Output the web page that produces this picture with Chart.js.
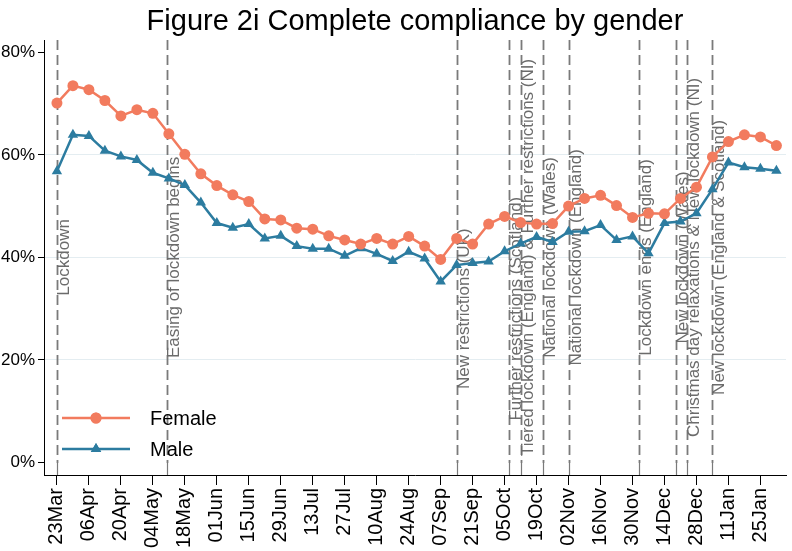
<!DOCTYPE html>
<html>
<head>
<meta charset="utf-8">
<title>Figure 2i Complete compliance by gender</title>
<script src="https://cdn.jsdelivr.net/npm/chart.js@4.4.0/dist/chart.umd.min.js"></script>
<style>
  html, body { margin: 0; padding: 0; background: #fff; }
  #grafico { display: block; }
</style>
</head>
<body>
<canvas id="grafico" width="792" height="551"></canvas>
<script>
// Datos (semanal desde el 23 de marzo de 2020)
var fechasEncuesta = [
  '2020-03-23', '2020-03-30', '2020-04-06', '2020-04-13', '2020-04-20', '2020-04-27', '2020-05-04', '2020-05-11',
  '2020-05-18', '2020-05-25', '2020-06-01', '2020-06-08', '2020-06-15', '2020-06-22', '2020-06-29', '2020-07-06',
  '2020-07-13', '2020-07-20', '2020-07-27', '2020-08-03', '2020-08-10', '2020-08-17', '2020-08-24', '2020-08-31',
  '2020-09-07', '2020-09-14', '2020-09-21', '2020-09-28', '2020-10-05', '2020-10-12', '2020-10-19', '2020-10-26',
  '2020-11-02', '2020-11-09', '2020-11-16', '2020-11-23', '2020-11-30', '2020-12-07', '2020-12-14', '2020-12-21',
  '2020-12-28', '2021-01-04', '2021-01-11', '2021-01-18', '2021-01-25', '2021-02-01'
];
var female = [
  70.1, 73.5, 72.7, 70.6, 67.6, 68.8, 68.1, 64.1, 60.1, 56.3, 54.0, 52.2, 50.9, 47.5, 47.3, 45.7,
  45.5, 44.2, 43.4, 42.6, 43.7, 42.6, 44.1, 42.2, 39.6, 43.7, 42.6, 46.5, 48.0, 46.8, 46.5, 46.6,
  50.0, 51.5, 52.1, 50.1, 47.8, 48.6, 48.5, 51.5, 53.7, 59.6, 62.6, 63.9, 63.5, 61.8
];
var male = [
  56.8, 63.9, 63.7, 60.8, 59.7, 59.0, 56.5, 55.4, 54.1, 50.7, 46.7, 45.8, 46.5, 43.7, 44.2, 42.2,
  41.7, 41.7, 40.3, 41.8, 40.7, 39.3, 41.1, 39.8, 35.3, 38.5, 38.9, 39.2, 41.2, 42.7, 44.0, 43.0,
  45.0, 45.1, 46.3, 43.4, 44.1, 40.8, 46.7, 47.0, 48.6, 53.3, 58.5, 57.6, 57.3, 56.9
];
var fechasTicks = [
  '2020-03-23', '2020-04-06', '2020-04-20', '2020-05-04', '2020-05-18', '2020-06-01', '2020-06-15', '2020-06-29',
  '2020-07-13', '2020-07-27', '2020-08-10', '2020-08-24', '2020-09-07', '2020-09-21', '2020-10-05', '2020-10-19',
  '2020-11-02', '2020-11-16', '2020-11-30', '2020-12-14', '2020-12-28', '2021-01-11', '2021-01-25'
];
var ticksY = [0, 20, 40, 60, 80];
var rejillaY = [20, 40, 60];

// Eventos: fecha, texto y altura (en %) donde se centra el texto
var fechasEventos = [
  '2020-03-23', '2020-05-10', '2020-09-14', '2020-10-07', '2020-10-12', '2020-10-22',
  '2020-11-02', '2020-12-03', '2020-12-19', '2020-12-24', '2021-01-04'
];
var textosEventos = [
  'Lockdown',
  'Easing of lockdown begins',
  'New restrictions (UK)',
  'Further restrictions (Scotland)',
  'Tiered lockdown (England) & Further restrictions (NI)',
  'National lockdown (Wales)',
  'National lockdown (England)',
  'Lockdown ends (England)',
  'New lockdown (Wales)',
  'Christmas day relaxations & New lockdown (NI)',
  'New lockdown (England & Scotland)'
];
var alturaEventos = [40, 40, 30, 30, 40, 40, 40, 40, 40, 40, 40];

(function () {
  var FUENTE = "'Liberation Sans', Arial, sans-serif";
  var NARANJA = '#f27b5e';
  var AZUL = '#2c7ca0';
  var INICIO = Date.UTC(2020, 2, 23);
  var MESES = ['Jan', 'Feb', 'Mar', 'Apr', 'May', 'Jun', 'Jul', 'Aug', 'Sep', 'Oct', 'Nov', 'Dec'];

  function dias(iso) {
    var p = iso.split('-');
    return (Date.UTC(+p[0], +p[1] - 1, +p[2]) - INICIO) / 86400000;
  }
  function etiqueta(d) {
    var t = new Date(INICIO + Math.round(d) * 86400000);
    var dd = t.getUTCDate();
    return (dd < 10 ? '0' : '') + dd + MESES[t.getUTCMonth()];
  }
  function puntos(serie) {
    return fechasEncuesta.map(function (f, i) { return { x: dias(f), y: serie[i] }; });
  }

  // ---------------- Líneas de eventos ----------------
  var eventos = {
    id: 'eventos',
    beforeDatasetsDraw: function (chart) {
      var c = chart.ctx, a = chart.chartArea, sx = chart.scales.x, sy = chart.scales.y;
      c.save();
      fechasEventos.forEach(function (f, i) {
        var x = Math.round(sx.getPixelForValue(dias(f))) + 0.5;
        c.strokeStyle = '#7a7a7a';
        c.lineWidth = 1.8;
        c.setLineDash([10, 5]);
        c.beginPath(); c.moveTo(x, a.top); c.lineTo(x, a.bottom - 12); c.stroke();
        c.setLineDash([]);
        c.lineWidth = 1.2;
        c.beginPath(); c.moveTo(x, a.bottom - 12); c.lineTo(x, a.bottom); c.stroke();

        c.save();
        c.translate(x + 11.5, sy.getPixelForValue(alturaEventos[i]));
        c.rotate(-Math.PI / 2);
        c.fillStyle = '#6b6b6b';
        c.font = '17px ' + FUENTE;
        c.textAlign = 'center';
        c.textBaseline = 'alphabetic';
        c.fillText(textosEventos[i], 0, 0);
        c.restore();
      });
      c.restore();
    }
  };

  // ---------------- Título y leyenda ----------------
  var extras = {
    id: 'extras',
    afterDraw: function (chart) {
      var c = chart.ctx, a = chart.chartArea;
      c.save();
      c.fillStyle = '#000';
      c.font = '29px ' + FUENTE;
      c.textAlign = 'center';
      c.textBaseline = 'alphabetic';
      c.fillText('Figure 2i Complete compliance by gender', (a.left + a.right) / 2, 30);

      var filas = [
        { texto: 'Female', color: NARANJA, forma: 'circle', r: 5.5, y: 418 },
        { texto: 'Male', color: AZUL, forma: 'triangle', r: 6, y: 449 }
      ];
      filas.forEach(function (f) {
        c.strokeStyle = f.color;
        c.lineWidth = 2.5;
        c.beginPath(); c.moveTo(62, f.y); c.lineTo(130, f.y); c.stroke();
        c.fillStyle = f.color;
        Chart.helpers.drawPoint(c, { pointStyle: f.forma, radius: f.r, borderWidth: 0 }, 96, f.y);
        c.fill();
        c.fillStyle = '#000';
        c.font = '20px ' + FUENTE;
        c.textAlign = 'left';
        c.textBaseline = 'middle';
        c.fillText(f.texto, 150, f.y + 1);
      });
      c.restore();
    }
  };

  var ctx = document.getElementById('grafico').getContext('2d');
  new Chart(ctx, {
    type: 'line',
    data: {
      datasets: [
        { label: 'Female', data: puntos(female), borderColor: NARANJA, backgroundColor: NARANJA, borderWidth: 2.5,
          pointStyle: 'circle', pointRadius: 5.5, pointBorderWidth: 0, tension: 0 },
        { label: 'Male', data: puntos(male), borderColor: AZUL, backgroundColor: AZUL, borderWidth: 2.5,
          pointStyle: 'triangle', pointRadius: 6, pointBorderWidth: 0, tension: 0 }
      ]
    },
    options: {
      responsive: false,
      animation: false,
      devicePixelRatio: 1,
      layout: { padding: { top: 40, right: 2, left: 0, bottom: 0 } },
      plugins: { legend: { display: false }, title: { display: false }, tooltip: { enabled: false } },
      scales: {
        x: {
          type: 'linear', min: -5.66, max: 319.2,
          afterBuildTicks: function (s) { s.ticks = fechasTicks.map(function (f) { return { value: dias(f) }; }); },
          afterFit: function (s) { s.height = 76; },
          ticks: { autoSkip: false, minRotation: 90, maxRotation: 90, padding: 3, color: '#000',
            font: { family: FUENTE, size: 20 }, callback: function (v) { return etiqueta(v); } },
          grid: { drawOnChartArea: false, tickLength: 10, color: '#000', lineWidth: 1 },
          border: { color: '#000', width: 1 }
        },
        y: {
          min: -2.44, max: 82.4,
          afterBuildTicks: function (s) { s.ticks = ticksY.map(function (v) { return { value: v }; }); },
          afterFit: function (s) { s.width = 44; },
          ticks: { padding: 3, color: '#000', font: { family: FUENTE, size: 17 }, callback: function (v) { return v + '%'; } },
          grid: {
            color: function (c) { return c.tick && rejillaY.indexOf(c.tick.value) >= 0 ? '#e4edf1' : 'rgba(0,0,0,0)'; },
            tickColor: '#000', tickLength: 6, lineWidth: 1
          },
          border: { color: '#000', width: 1 }
        }
      }
    },
    plugins: [eventos, extras]
  });
})();
</script>
</body>
</html>
